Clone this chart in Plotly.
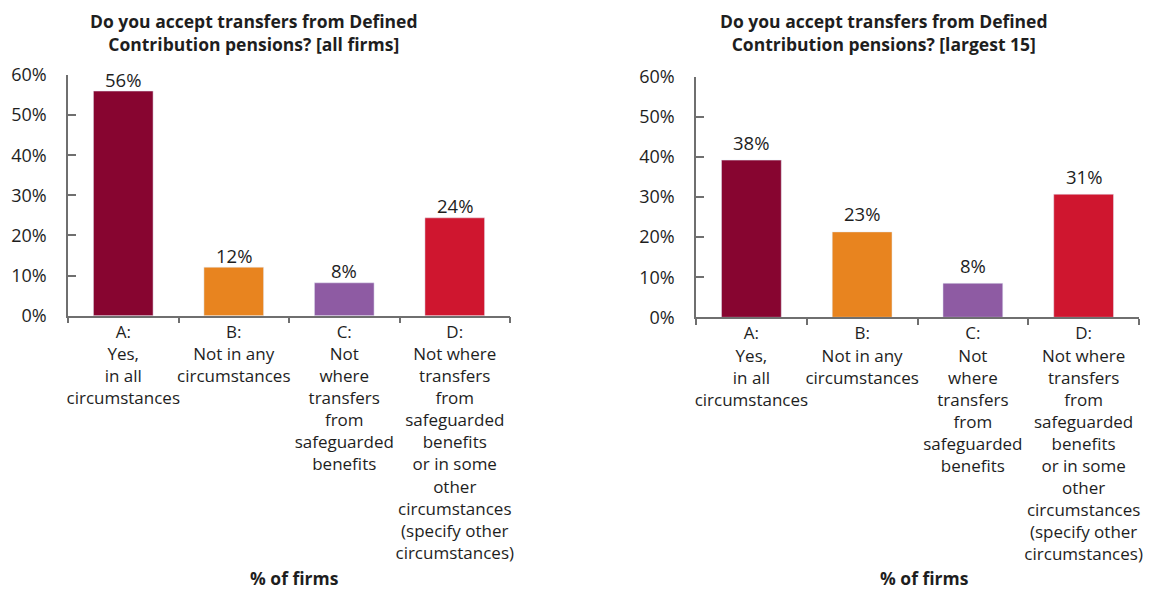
import plotly.graph_objects as go

W, H = 1159, 592

categories = [
    "A:<br>Yes,<br>in all<br>circumstances",
    "B:<br>Not in any<br>circumstances",
    "C:<br>Not<br>where<br>transfers<br>from<br>safeguarded<br>benefits",
    "D:<br>Not where<br>transfers<br>from<br>safeguarded<br>benefits<br>or in some<br>other<br>circumstances<br>(specify other<br>circumstances)",
]
left_values = [56.0, 12.1, 8.2, 24.4]
left_labels = ["56%", "12%", "8%", "24%"]
right_values = [39.2, 21.3, 8.5, 30.7]
right_labels = ["38%", "23%", "8%", "31%"]
bar_colors = ["#870530", "#E8841F", "#8E5BA3", "#CF162F"]

left_title = "Do you accept transfers from Defined<br>Contribution pensions? [all firms]"
right_title = "Do you accept transfers from Defined<br>Contribution pensions? [largest 15]"
x_title = "% of firms"
y_ticks = [0, 10, 20, 30, 40, 50, 60]
y_tick_text = ["0%", "10%", "20%", "30%", "40%", "50%", "60%"]

FONT = "Open Sans"
TXT = "#1e1e1e"
AX = "#6f6f6f"

fig = go.Figure()
fig.add_trace(go.Bar(x=categories, y=left_values, marker_color=bar_colors,
                     width=0.54, xaxis="x", yaxis="y", showlegend=False, hoverinfo="skip"))
fig.add_trace(go.Bar(x=categories, y=right_values, marker_color=bar_colors,
                     width=0.54, xaxis="x2", yaxis="y2", showlegend=False, hoverinfo="skip"))

def px(x):
    return x / W

def py(y):
    return 1 - y / H

xcommon = dict(type="category", showline=True, linecolor=AX, linewidth=1.5,
               ticks="outside", ticklen=6, tickcolor=AX, tickwidth=1.5,
               tickson="boundaries", showgrid=False, zeroline=False, tickangle=0,
               automargin=False,
               tickfont=dict(family=FONT, size=17, color=TXT), fixedrange=True)
ycommon = dict(range=[0, 60], tickmode="array", tickvals=y_ticks, ticktext=y_tick_text,
               showline=True, linecolor=AX, linewidth=1.5, ticks="inside", ticklen=8,
               tickcolor=AX, tickwidth=1.5, showgrid=False, zeroline=False,
               ticklabelstandoff=16, automargin=False,
               tickfont=dict(family=FONT, size=18, color=TXT), fixedrange=True)

fig.update_layout(
    width=W, height=H, autosize=False,
    margin=dict(l=0, r=0, t=0, b=0, pad=0, autoexpand=False),
    paper_bgcolor="white", plot_bgcolor="white",
    font=dict(family=FONT, color=TXT),
    xaxis=dict(domain=[px(68), px(510)], anchor="y", **xcommon),
    yaxis=dict(domain=[py(315.7), py(75)], anchor="x", **ycommon),
    xaxis2=dict(domain=[px(696), px(1139)], anchor="y2", **xcommon),
    yaxis2=dict(domain=[py(317.3), py(76.7)], anchor="x2", **ycommon),
    bargap=0.46,
)

annotations = []
for c, v, t in zip(categories, left_values, left_labels):
    annotations.append(dict(x=c, y=v, xref="x", yref="y", text=t, showarrow=False,
                            yanchor="middle", yshift=12,
                            font=dict(family=FONT, size=18.5, color=TXT)))
for c, v, t in zip(categories, right_values, right_labels):
    annotations.append(dict(x=c, y=v, xref="x2", yref="y2", text=t, showarrow=False,
                            yanchor="middle", yshift=18,
                            font=dict(family=FONT, size=18.5, color=TXT)))

def bold_lines(s):
    return "<br>".join("<b>" + p + "</b>" for p in s.split("<br>"))

annotations.append(dict(x=px(254), y=py(32), xref="paper", yref="paper", text=bold_lines(left_title),
                        showarrow=False, xanchor="center", yanchor="middle",
                        font=dict(family=FONT, size=17.5, color=TXT)))
annotations.append(dict(x=px(884), y=py(33), xref="paper", yref="paper", text=bold_lines(right_title),
                        showarrow=False, xanchor="center", yanchor="middle",
                        font=dict(family=FONT, size=17.5, color=TXT)))
annotations.append(dict(x=px(294), y=py(578), xref="paper", yref="paper", text=bold_lines(x_title),
                        showarrow=False, xanchor="center", yanchor="middle",
                        font=dict(family=FONT, size=17.5, color=TXT)))
annotations.append(dict(x=px(924), y=py(578), xref="paper", yref="paper", text=bold_lines(x_title),
                        showarrow=False, xanchor="center", yanchor="middle",
                        font=dict(family=FONT, size=17.5, color=TXT)))
fig.update_layout(annotations=annotations)

fig.write_html("out.html")
